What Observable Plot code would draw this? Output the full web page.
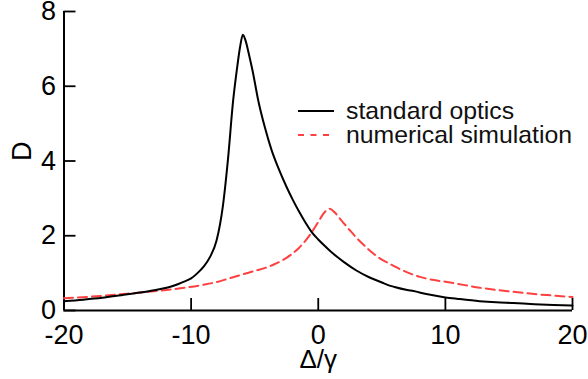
<!DOCTYPE html>
<html>
<head>
<meta charset="utf-8">
<script src="https://cdn.jsdelivr.net/npm/d3@7"></script>
<script src="https://cdn.jsdelivr.net/npm/@observablehq/plot@0.6"></script>
<style>
html, body { margin: 0; padding: 0; background: #fff; }
#wrap { position: relative; width: 588px; height: 379px; font-family: "Liberation Sans", Arial, Helvetica, sans-serif; }
#legend { position: absolute; left: 0; top: 0; pointer-events: none; }
</style>
</head>
<body>
<div id="wrap"></div>
<script>
// Tick values
const xTicks = [-20, -10, 0, 10, 20];
const yTicks = [0, 2, 4, 6, 8];

// Series: standard optics (solid black)
const stdX = [-20,-18.5,-17,-15.5,-14,-12.5,-11.5,-11,-10.5,-10,-9.5,-9,-8.5,-8,-7.5,-7.1,-6.7,-6.4,-6.15,-5.93,-5.7,-5.45,-5.17,-4.72,-4.2,-3.67,-3.15,-2.5,-2,-1.5,-1,-0.5,0,0.5,1,1.5,2,3,4,5,5.5,6,7,7.5,8.5,10,11,12.7,14,15.35,17,18.5,20];
const stdD = [0.25,0.29,0.34,0.41,0.48,0.57,0.65,0.71,0.78,0.86,1.00,1.18,1.44,1.87,2.8,4.05,5.6,6.45,7.05,7.38,7.2,6.85,6.42,5.62,4.9,4.29,3.82,3.31,2.96,2.64,2.35,2.09,1.9,1.73,1.57,1.43,1.3,1.07,0.89,0.75,0.68,0.63,0.55,0.52,0.44,0.35,0.31,0.25,0.22,0.2,0.17,0.15,0.13];

// Series: numerical simulation (dashed red)
const simX = [-20,-17.5,-15,-12.5,-10.5,-9,-8,-7,-6,-5,-4,-3.5,-3,-2.5,-2,-1.5,-1,-0.5,0,0.5,0.9,1.3,1.8,2.5,3,3.5,4,4.5,5,5.5,6,7,8,9,10,11,12.7,14,15.35,17,18.5,20];
const simD = [0.33,0.38,0.45,0.53,0.61,0.69,0.76,0.86,0.96,1.06,1.16,1.23,1.31,1.41,1.53,1.68,1.87,2.1,2.37,2.63,2.72,2.62,2.42,2.14,1.95,1.78,1.62,1.48,1.36,1.27,1.18,1.02,0.9,0.82,0.77,0.71,0.61,0.55,0.5,0.44,0.4,0.36];

const seriesNames = ["standard optics", "numerical simulation"];
const xLabel = "Δ/γ";
const yLabel = "D";

const std = stdX.map((x, i) => ({x, D: stdD[i]}));
const sim = simX.map((x, i) => ({x, D: simD[i]}));

const RED = "#ff4040";
const FONT = "Liberation Sans, Arial, Helvetica, sans-serif";

const plot = Plot.plot({
  width: 588,
  height: 379,
  marginLeft: 63.5,
  marginRight: 16,
  marginTop: 11,
  marginBottom: 69,
  x: {domain: [-20, 20]},
  y: {domain: [0, 8]},
  style: {fontFamily: FONT, background: "white", color: "black", overflow: "visible"},
  marks: [
    Plot.axisX(xTicks, {tickSize: 0, tickPadding: 14, fontSize: 27, tickFormat: d => String(d), label: null}),
    Plot.axisY(yTicks, {tickSize: 0, tickPadding: 8, fontSize: 27, tickFormat: d => String(d), label: null}),
    Plot.ruleX(xTicks, {x: d => d, insetTop: 287, stroke: "black", strokeWidth: 1.8}),
    Plot.ruleY(yTicks, {y: d => d, insetRight: 496.5, stroke: "black", strokeWidth: 1.8}),
    Plot.ruleY([0], {stroke: "black", strokeWidth: 2}),
    Plot.ruleX([-20], {stroke: "black", strokeWidth: 2}),
    Plot.line(sim, {x: "x", y: "D", stroke: RED, strokeWidth: 2, strokeDasharray: "9,5", curve: "monotone-x"}),
    Plot.line(std, {x: "x", y: "D", stroke: "black", strokeWidth: 2, curve: "monotone-x"}),
    Plot.text([xLabel], {text: d => d, frameAnchor: "bottom", lineAnchor: "bottom", dy: 57, fontSize: 26, fill: "black"}),
    Plot.text([yLabel], {text: d => d, frameAnchor: "left", dx: -42, rotate: -90, fontSize: 27, fill: "black"})
  ]
});

const wrap = document.getElementById("wrap");
wrap.appendChild(plot);

// Legend overlay (inside plot area)
const ns = "http://www.w3.org/2000/svg";
const leg = document.createElementNS(ns, "svg");
leg.setAttribute("id", "legend");
leg.setAttribute("width", 588);
leg.setAttribute("height", 379);
const rows = [
  {name: seriesNames[0], stroke: "black", dash: null, y: 111},
  {name: seriesNames[1], stroke: RED, dash: "6,6.5", y: 135}
];
for (const r of rows) {
  const ln = document.createElementNS(ns, "line");
  ln.setAttribute("x1", 298); ln.setAttribute("x2", 334);
  ln.setAttribute("y1", r.y); ln.setAttribute("y2", r.y);
  ln.setAttribute("stroke", r.stroke); ln.setAttribute("stroke-width", 2);
  if (r.dash) ln.setAttribute("stroke-dasharray", r.dash);
  leg.appendChild(ln);
  const t = document.createElementNS(ns, "text");
  t.setAttribute("x", 346); t.setAttribute("y", r.y + 7.5);
  t.setAttribute("font-size", 24.8);
  t.setAttribute("font-family", FONT);
  t.setAttribute("fill", "#111");
  t.textContent = r.name;
  leg.appendChild(t);
}
wrap.appendChild(leg);
</script>
</body>
</html>
